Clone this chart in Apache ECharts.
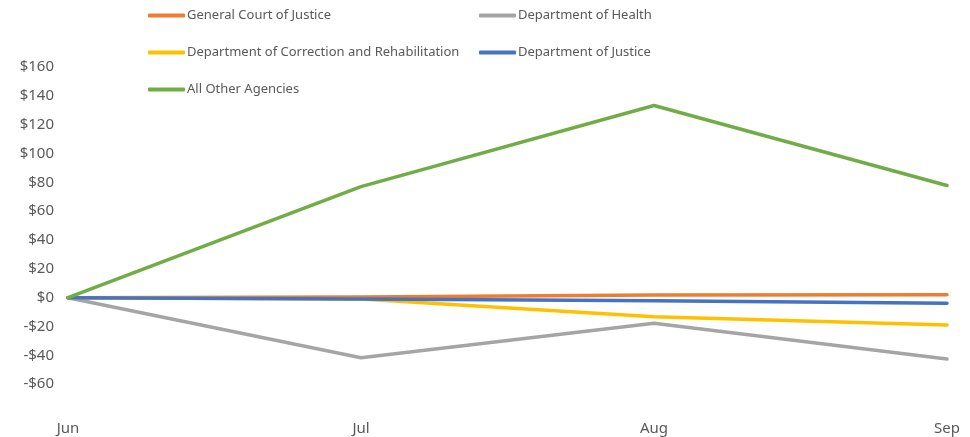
<!DOCTYPE html>
<html><head><meta charset="utf-8">
<script src="https://cdn.jsdelivr.net/npm/echarts@6/dist/echarts.min.js"></script>
<style>html,body{margin:0;padding:0;background:#fff}#c{width:970px;height:437px}</style>
</head><body><div id="c"></div>
<script>
const categories = ['Jun', 'Jul', 'Aug', 'Sep'];
const seriesNames = ['General Court of Justice', 'Department of Health', 'Department of Correction and Rehabilitation', 'Department of Justice', 'All Other Agencies'];
const generalCourt = [0, 0.5, 1.9, 2.1];
const health = [0, -41.7, -17.8, -42.6];
const correction = [0, -1, -13.3, -19];
const justice = [0, -1, -2.2, -3.9];
const otherAgencies = [0, 77, 133.3, 77.8];
const colors = ['#ED7D31', '#A5A5A5', '#FFC000', '#4472C4', '#70AD47'];
const values = [generalCourt, health, correction, justice, otherAgencies];

const legendPos = [
  {left: 148, top: 9}, {left: 479, top: 9},
  {left: 148, top: 46}, {left: 479, top: 46},
  {left: 148, top: 83}
];
const font = 'Noto Sans';
const chart = echarts.init(document.getElementById('c'));
chart.setOption({
  animation: false,
  legend: seriesNames.map((n, i) => ({
    data: [n], left: legendPos[i].left, top: legendPos[i].top, padding: 0,
    icon: 'roundRect', itemWidth: 37, itemHeight: 4, itemGap: 0,
    textStyle: {fontFamily: font, fontSize: 13, color: '#595959', padding: [0, 0, 0, -3]},
    selectedMode: false
  })),
  grid: {left: 68, right: 23, top: 67, bottom: 24, containLabel: false},
  xAxis: {
    type: 'category', data: categories, boundaryGap: false,
    axisLine: {show: false}, axisTick: {show: false}, splitLine: {show: false},
    axisLabel: {fontFamily: font, fontSize: 15, color: '#595959', margin: 8}
  },
  yAxis: {
    type: 'value', min: -80, max: 160, interval: 20,
    axisLine: {show: false}, axisTick: {show: false}, splitLine: {show: false},
    axisLabel: {fontFamily: font, fontSize: 15, color: '#595959', margin: 14, showMinLabel: false,
      formatter: v => (v < 0 ? '-$' + Math.abs(v) : '$' + v)}
  },
  series: seriesNames.map((n, i) => ({
    name: n, type: 'line', data: values[i], symbol: 'none',
    itemStyle: {color: colors[i]},
    lineStyle: {color: colors[i], width: 3.5, cap: 'round', join: 'round'}
  }))
});
</script></body></html>
